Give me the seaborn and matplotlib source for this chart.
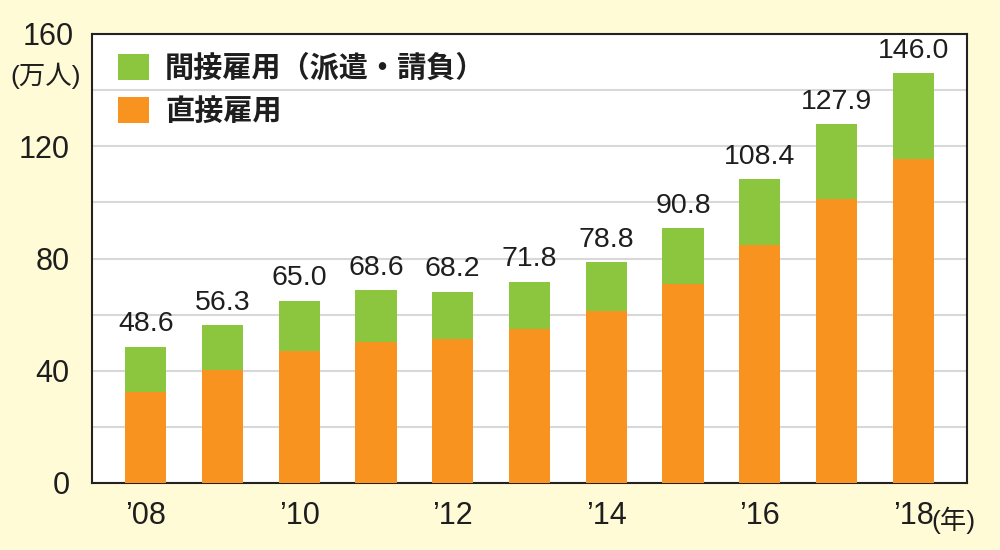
import pandas as pd
import matplotlib.pyplot as plt
import seaborn as sns
from matplotlib.patches import Patch

# data (万人)
years = ["2008", "2009", "2010", "2011", "2012", "2013", "2014", "2015", "2016", "2017", "2018"]
tick_labels = ["’08", "", "’10", "", "’12", "", "’14", "", "’16", "", "’18"]
total = [48.6, 56.3, 65.0, 68.6, 68.2, 71.8, 78.8, 90.8, 108.4, 127.9, 146.0]
direct = [32.4, 40.3, 47.2, 50.2, 51.2, 54.8, 61.2, 70.8, 84.8, 101.1, 115.6]
legend_labels = ["間接雇用（派遣・請負）", "直接雇用"]

green = "#8cc63f"
orange = "#f7931e"
bg = "#fffbd7"

sns.set_style("white")
plt.rcParams["font.family"] = ["Liberation Sans", "Noto Sans CJK JP", "DejaVu Sans"]

df = pd.DataFrame({"year": years, "total": total, "direct": direct})

fig = plt.figure(figsize=(10, 5.5), dpi=100, facecolor=bg)
ax = fig.add_axes([0.092, 0.122, 0.875, 0.816])
ax.set_facecolor("white")

# stacked: total (green) behind, direct (orange) in front
sns.barplot(data=df, x="year", y="total", color=green, width=0.54,
            saturation=1, linewidth=0, edgecolor="none", ax=ax, zorder=2)
sns.barplot(data=df, x="year", y="direct", color=orange, width=0.54,
            saturation=1, linewidth=0, edgecolor="none", ax=ax, zorder=3)

for i, v in enumerate(total):
    ax.text(i, v + 3.3, f"{v:.1f}", ha="center", va="bottom", fontsize=20.5, color="#1e1e1e")

ax.set_ylim(0, 160)
ax.set_xlim(-0.7, 10.7)
ax.set_yticks(range(0, 161, 20))
ax.set_yticklabels(["0", "", "40", "", "80", "", "120", "", ""])
ax.set_xticks(range(len(years)))
ax.set_xticklabels(tick_labels)
ax.grid(axis="y", color="#d8d8d8", linewidth=1.5, zorder=0)
ax.set_axisbelow(True)
ax.tick_params(axis="both", direction="in", length=7, width=1.3, color="#222222",
               labelsize=22, labelcolor="#1e1e1e")
ax.tick_params(axis="x", pad=13)
ax.tick_params(axis="y", pad=16)
ax.set_xlabel("")
ax.set_ylabel("")
for s in ax.spines.values():
    s.set_color("#222222")
    s.set_linewidth(1.5)

fig.text(0.074, 0.932, "160", ha="right", va="center", fontsize=22, color="#1e1e1e")
fig.text(0.081, 0.862, "(万人)", ha="right", va="center", fontsize=19, color="#1e1e1e")
fig.text(0.931, 0.054, "(年)", ha="left", va="center", fontsize=19, color="#1e1e1e")

handles = [Patch(facecolor=green, edgecolor="none"), Patch(facecolor=orange, edgecolor="none")]
leg = ax.legend(handles, legend_labels, loc="upper left", bbox_to_anchor=(0.0, 1.016),
                frameon=False, handlelength=1.05, handleheight=1.0, handletextpad=0.55,
                labelspacing=0.45,
                prop={"family": ["Noto Sans CJK JP"], "weight": "bold", "size": 21})
for t in leg.get_texts():
    t.set_color("#1e1e1e")

fig.savefig("out.png", dpi=100, facecolor=bg)
